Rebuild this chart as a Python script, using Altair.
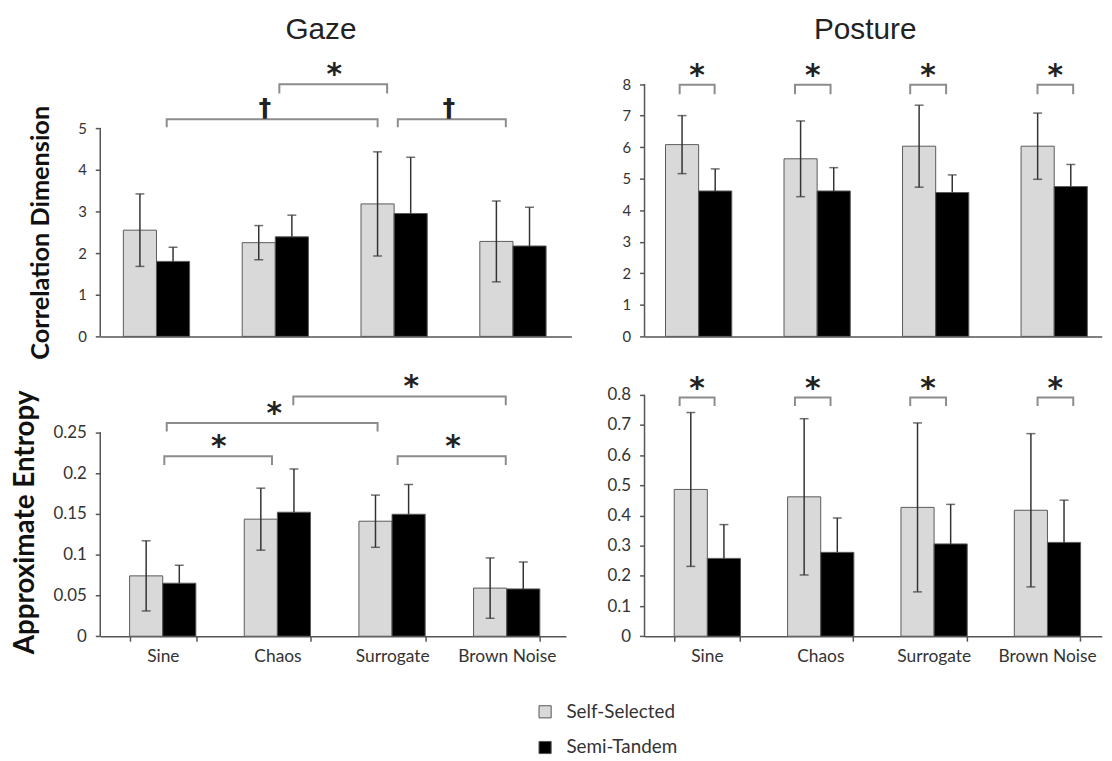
import altair as alt
import pandas as pd

categories = ["Sine", "Chaos", "Surrogate", "Brown Noise"]
groups = ["Self-Selected", "Semi-Tandem"]
group_colors = ["#d9d9d9", "#000000"]

# Gaze - Correlation Dimension
gaze_cd_ss_mean = [2.55, 2.25, 3.18, 2.28]
gaze_cd_ss_sd = [0.87, 0.41, 1.25, 0.97]
gaze_cd_st_mean = [1.80, 2.39, 2.95, 2.17]
gaze_cd_st_sd = [0.34, 0.52, 1.35, 0.93]

# Posture - Correlation Dimension
posture_cd_ss_mean = [6.08, 5.63, 6.03, 6.03]
posture_cd_ss_sd = [0.92, 1.20, 1.30, 1.05]
posture_cd_st_mean = [4.61, 4.61, 4.56, 4.75]
posture_cd_st_sd = [0.70, 0.74, 0.56, 0.70]

# Gaze - Approximate Entropy
gaze_apen_ss_mean = [0.074, 0.1435, 0.141, 0.059]
gaze_apen_ss_sd = [0.043, 0.038, 0.032, 0.037]
gaze_apen_st_mean = [0.065, 0.152, 0.1495, 0.058]
gaze_apen_st_sd = [0.022, 0.053, 0.0365, 0.033]

# Posture - Approximate Entropy
posture_apen_ss_mean = [0.4865, 0.462, 0.427, 0.4175]
posture_apen_ss_sd = [0.255, 0.259, 0.28, 0.254]
posture_apen_st_mean = [0.258, 0.278, 0.306, 0.311]
posture_apen_st_sd = [0.112, 0.114, 0.131, 0.140]

# y tick values
cd_gaze_ticks = [0, 1, 2, 3, 4, 5]
cd_posture_ticks = [0, 1, 2, 3, 4, 5, 6, 7, 8]
apen_gaze_ticks = [0, 0.05, 0.1, 0.15, 0.2, 0.25]
apen_posture_ticks = [0, 0.1, 0.2, 0.3, 0.4, 0.5, 0.6, 0.7, 0.8]

# significance brackets (x in category units: category i centred at i + 0.5)
gaze_cd_br_x1 = [0.586, 1.534, 2.531]
gaze_cd_br_x2 = [2.361, 2.441, 3.440]
gaze_cd_br_y = [5.21, 6.05, 5.21]
gaze_cd_br_yend = [5.02, 5.83, 5.02]
gaze_cd_br_tx = [1.412, 1.997, 2.962]
gaze_cd_br_ty = [5.43, 6.39, 5.43]
gaze_cd_br_sym = ["†", "*", "†"]

posture_cd_br_x1 = [0.335, 1.308, 2.280, 3.354]
posture_cd_br_x2 = [0.630, 1.608, 2.583, 3.655]
posture_cd_br_y = [7.98, 7.98, 7.98, 7.98]
posture_cd_br_yend = [7.68, 7.68, 7.68, 7.68]
posture_cd_br_tx = [0.482, 1.458, 2.431, 3.504]
posture_cd_br_ty = [8.40, 8.40, 8.40, 8.40]
posture_cd_br_sym = ["*", "*", "*", "*"]

gaze_apen_br_x1 = [0.513, 0.534, 1.638, 2.548]
gaze_apen_br_x2 = [1.452, 2.373, 3.491, 3.491]
gaze_apen_br_y = [0.2205, 0.2614, 0.2938, 0.2205]
gaze_apen_br_yend = [0.210, 0.251, 0.283, 0.210]
gaze_apen_br_tx = [0.989, 1.471, 2.666, 3.030]
gaze_apen_br_ty = [0.238, 0.279, 0.311, 0.238]
gaze_apen_br_sym = ["*", "*", "*", "*"]

posture_apen_br_x1 = [0.259, 1.276, 2.293, 3.416]
posture_apen_br_x2 = [0.567, 1.590, 2.609, 3.731]
posture_apen_br_y = [0.791, 0.791, 0.791, 0.791]
posture_apen_br_yend = [0.763, 0.763, 0.763, 0.763]
posture_apen_br_tx = [0.413, 1.433, 2.451, 3.573]
posture_apen_br_ty = [0.836, 0.836, 0.836, 0.836]
posture_apen_br_sym = ["*", "*", "*", "*"]

AXIS_COLOR = "#555555"
LABEL_COLOR = "#333333"

legend_def = alt.Legend(
    orient="none", legendX=439, legendY=650, title=None, direction="vertical",
    symbolType="square", symbolSize=150, symbolStrokeColor="#555555", symbolStrokeWidth=1,
    labelFont="Lato", labelFontSize=19, labelColor=LABEL_COLOR, labelOffset=12,
    rowPadding=16, padding=0,
)


def panel(ss_mean, ss_sd, st_mean, st_sd, ticks, ymax, W, H, step, pair, fc,
          bx1, bx2, by, byend, btx, bty, bsym, show_x, ytitle, ytitle_x, ytitle_y,
          ytitle_size, label_size):
    rows = []
    for i, c in enumerate(categories):
        rows.append(dict(cat=c, grp=groups[0], mean=ss_mean[i],
                         lo=ss_mean[i] - ss_sd[i], hi=ss_mean[i] + ss_sd[i]))
        rows.append(dict(cat=c, grp=groups[1], mean=st_mean[i],
                         lo=st_mean[i], hi=st_mean[i] + st_sd[i]))
    df = pd.DataFrame(rows)
    caps = pd.concat([
        df[["cat", "grp", "hi"]].rename(columns={"hi": "v"}),
        df[df.grp == groups[0]][["cat", "grp", "lo"]].rename(columns={"lo": "v"}),
    ], ignore_index=True)

    n = len(categories)
    pi = 1 - pair / step
    po = (W / step - n + pi) / 2
    outer = W - step * (n - pi)
    al = (fc - pair / 2) / outer
    xscale = alt.Scale(domain=categories, paddingInner=pi, paddingOuter=po, align=al)
    if show_x:
        xaxis = alt.Axis(title=None, labelAngle=0, labelFont="Lato", labelFontSize=17.5,
                         labelColor=LABEL_COLOR, ticks=True, tickBand="extent", tickSize=5,
                         tickColor=AXIS_COLOR, tickWidth=1.5, domainColor=AXIS_COLOR,
                         domainWidth=1.5, labelPadding=6, grid=False)
    else:
        xaxis = alt.Axis(title=None, labels=False, ticks=False, domainColor=AXIS_COLOR,
                         domainWidth=1.5, grid=False)
    yscale = alt.Scale(domain=[0, ymax], nice=False, zero=True)
    if ytitle:
        yaxis = alt.Axis(values=ticks, format="~g", domain=False, grid=False, tickSize=5,
                         tickColor=AXIS_COLOR, tickWidth=1.5, labelFont="Lato",
                         labelFontSize=label_size, labelColor=LABEL_COLOR, labelPadding=9,
                         title=ytitle, titleFont="Lato", titleFontWeight="bold",
                         titleFontSize=ytitle_size, titleColor="#111111", titleAngle=270,
                         titleAlign="center", titleBaseline="alphabetic",
                         titleX=ytitle_x, titleY=ytitle_y)
    else:
        yaxis = alt.Axis(values=ticks, format="~g", domain=False, grid=False, tickSize=5,
                         tickColor=AXIS_COLOR, tickWidth=1.5, labelFont="Lato",
                         labelFontSize=label_size, labelColor=LABEL_COLOR, labelPadding=9,
                         title=None)

    X = alt.X("cat:N", sort=categories, scale=xscale, axis=xaxis)
    XO = alt.XOffset("grp:N", sort=groups,
                     scale=alt.Scale(domain=groups, paddingInner=0, paddingOuter=0))
    color = alt.Color("grp:N", scale=alt.Scale(domain=groups, range=group_colors),
                      legend=legend_def)

    def Y(field):
        return alt.Y(field, scale=yscale, axis=yaxis)

    bars = alt.Chart(df).mark_bar(stroke="#5a5a5a", strokeWidth=1).encode(
        x=X, xOffset=XO, y=Y("mean:Q"), color=color)
    err = alt.Chart(df).mark_rule(color="#333333", strokeWidth=1.5).encode(
        x=X, xOffset=XO, y=Y("lo:Q"), y2="hi:Q")
    cap = alt.Chart(caps).mark_tick(color="#333333", thickness=1.5, size=9).encode(
        x=X, xOffset=XO, y=Y("v:Q"))
    yline_df = pd.DataFrame({"a": [ticks[0]], "b": [ticks[-1]]})
    yline = alt.Chart(yline_df).mark_rule(color=AXIS_COLOR, strokeWidth=1.5).encode(
        x=alt.value(0), y=Y("a:Q"), y2="b:Q")
    inner = alt.layer(bars, err, cap, yline)

    # brackets
    u0 = 0.5 - fc / step
    u1 = 0.5 + (W - fc) / step
    qx = alt.Scale(domain=[u0, u1], nice=False, zero=False)
    pts = []
    for k in range(len(bx1)):
        pts += [dict(id=k, o=0, u=bx1[k], y=byend[k]), dict(id=k, o=1, u=bx1[k], y=by[k]),
                dict(id=k, o=2, u=bx2[k], y=by[k]), dict(id=k, o=3, u=bx2[k], y=byend[k])]
    bdf = pd.DataFrame(pts)
    tdf = pd.DataFrame({"u": btx, "y": bty, "sym": bsym})
    QX = alt.X("u:Q", scale=qx, axis=None)
    brk = alt.Chart(bdf).mark_line(color="#8c8c8c", strokeWidth=2).encode(
        x=QX, y=Y("y:Q"), detail="id:N", order="o:Q")
    star = alt.Chart(tdf).transform_filter("datum.sym == '*'").mark_text(
        font="DejaVu Sans", fontWeight="bold", fontSize=30, color="#222222",
        baseline="alphabetic", align="center", dy=14).encode(
        x=QX, y=Y("y:Q"), text="sym:N")
    dag = alt.Chart(tdf).transform_filter("datum.sym != '*'").mark_text(
        font="DejaVu Sans", fontWeight="bold", fontSize=25, color="#222222",
        baseline="alphabetic", align="center", dy=6).encode(
        x=QX, y=Y("y:Q"), text="sym:N")
    ann = alt.layer(brk, star, dag)
    return alt.layer(inner, ann).resolve_scale(x="independent").properties(width=W, height=H)


TL = panel(gaze_cd_ss_mean, gaze_cd_ss_sd, gaze_cd_st_mean, gaze_cd_st_sd, cd_gaze_ticks,
           6.69, 475, 281, 119.8, 66.8, 56.7,
           gaze_cd_br_x1, gaze_cd_br_x2, gaze_cd_br_y, gaze_cd_br_yend, gaze_cd_br_tx,
           gaze_cd_br_ty, gaze_cd_br_sym, False, "Correlation Dimension", -52, 176, 25.5, 15
           ).properties(title=alt.TitleParams("Gaze", font="Liberation Sans", fontSize=30,
                                              fontWeight="normal", color="#222222",
                                              anchor="middle", frame="group",
                                              offset=13, dx=-15))
TR = panel(posture_cd_ss_mean, posture_cd_ss_sd, posture_cd_st_mean, posture_cd_st_sd,
           cd_posture_ticks, 8.836, 461, 281, 119.5, 68, 55.15,
           posture_cd_br_x1, posture_cd_br_x2, posture_cd_br_y, posture_cd_br_yend,
           posture_cd_br_tx, posture_cd_br_ty, posture_cd_br_sym, False, "", 0, 0, 10, 15
           ).properties(title=alt.TitleParams("Posture", font="Liberation Sans", fontSize=30,
                                              fontWeight="normal", color="#222222",
                                              anchor="middle", frame="group",
                                              offset=13, dx=-8))
BL = panel(gaze_apen_ss_mean, gaze_apen_ss_sd, gaze_apen_st_mean, gaze_apen_st_sd,
           apen_gaze_ticks, 0.3262, 469.5, 268.3, 115.6, 67, 63.1,
           gaze_apen_br_x1, gaze_apen_br_x2, gaze_apen_br_y, gaze_apen_br_yend,
           gaze_apen_br_tx, gaze_apen_br_ty, gaze_apen_br_sym, True, "Approximate Entropy",
           -67, 153, 28, 17)
BR = panel(posture_apen_ss_mean, posture_apen_ss_sd, posture_apen_st_mean, posture_apen_st_sd,
           apen_posture_ticks, 0.882, 461, 268.3, 114.3, 66, 62.95,
           posture_apen_br_x1, posture_apen_br_x2, posture_apen_br_y, posture_apen_br_yend,
           posture_apen_br_tx, posture_apen_br_ty, posture_apen_br_sym, True, "", 0, 0, 10, 17)

chart = alt.concat(TL, TR, BL, BR, columns=2, bounds="flush",
                   spacing={"row": 34, "column": 73.75}).properties(
    padding={"left": 4, "top": 4, "right": 2, "bottom": 0}
).configure_view(stroke=None).configure_axis(grid=False)

chart.save("out.html", embed_options={"renderer": "svg", "actions": False})
